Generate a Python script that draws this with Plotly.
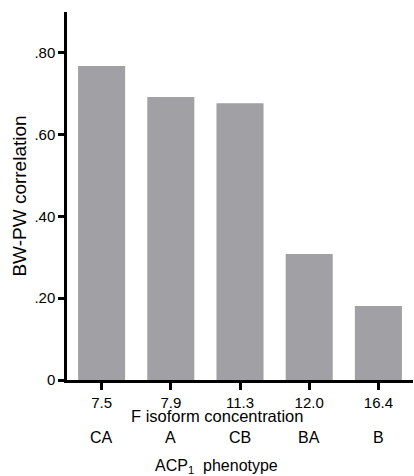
import plotly.graph_objects as go

concentration = ["7.5", "7.9", "11.3", "12.0", "16.4"]
phenotype = ["CA", "A", "CB", "BA", "B"]
correlation = [0.768, 0.692, 0.677, 0.308, 0.181]
ytick_vals = [0, 0.2, 0.4, 0.6, 0.8]
ytick_text = ["0", ".20", ".40", ".60", ".80"]

FONT = "Liberation Sans, Arial, Helvetica, sans-serif"

fig = go.Figure()
fig.add_trace(go.Bar(x=list(range(len(concentration))), y=correlation, marker_color="#a1a0a4",
                     marker_line_width=0, hoverinfo="skip"))

annotations = []
for i, p in enumerate(phenotype):
    annotations.append(dict(x=i, xref="x", y=-0.1576, yref="paper", text=p,
                            showarrow=False, xanchor="center", yanchor="middle",
                            font=dict(size=16, color="black", family=FONT)))
annotations.append(dict(x=0.4335, xref="paper", y=-0.0990, yref="paper",
                        text="F isoform concentration", showarrow=False,
                        xanchor="center", yanchor="middle",
                        font=dict(size=16.5, color="black", family=FONT)))
annotations.append(dict(x=0.4335, xref="paper", y=-0.2340, yref="paper",
                        text="ACP<sub>1</sub>  phenotype", showarrow=False,
                        xanchor="center", yanchor="middle",
                        font=dict(size=16, color="black", family=FONT)))

fig.update_layout(
    width=414, height=476,
    margin=dict(l=67, r=1, t=12, b=96),
    paper_bgcolor="white", plot_bgcolor="white",
    showlegend=False, bargap=0.32,
    font=dict(family=FONT, color="black"),
    annotations=annotations,
    xaxis=dict(range=[-0.5, 4.5], showline=True, linecolor="black",
               linewidth=2.5, ticks="outside", ticklen=7, tickwidth=2.5, tickcolor="black",
               tickvals=list(range(len(concentration))), ticktext=concentration,
               tickfont=dict(size=15, color="black", family=FONT), showgrid=False,
               zeroline=False, fixedrange=True),
    yaxis=dict(range=[0, 0.9], showline=True, linecolor="black", linewidth=2.5,
               ticks="outside", ticklen=6, tickwidth=2.5, tickcolor="black",
               tickvals=ytick_vals, ticktext=ytick_text,
               tickfont=dict(size=15, color="black", family=FONT), showgrid=False,
               zeroline=False, fixedrange=True,
               title=dict(text="BW-PW correlation", standoff=3,
                          font=dict(size=19, color="black", family=FONT))),
)

fig.write_html("out.html")
